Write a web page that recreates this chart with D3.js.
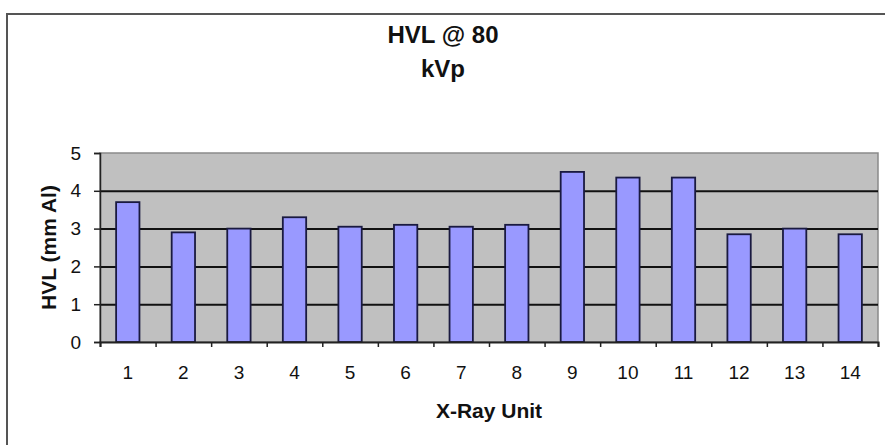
<!DOCTYPE html>
<html>
<head>
<meta charset="utf-8">
<script src="https://cdn.jsdelivr.net/npm/d3@7"></script>
<style>
  body { margin: 0; background: #fff; }
  text { font-family: "Liberation Sans", Arial, sans-serif; fill: #111; }
</style>
</head>
<body>
<div id="chart"></div>
<script>
const units = ["1", "2", "3", "4", "5", "6", "7", "8", "9", "10", "11", "12", "13", "14"]
const hvl = [3.7, 2.9, 3.0, 3.3, 3.05, 3.1, 3.05, 3.1, 4.5, 4.35, 4.35, 2.85, 3.0, 2.85]
const yTicks = [0, 1, 2, 3, 4, 5]
const titleLines = ["HVL @ 80", "kVp"]

const width = 885
const height = 445
const plotLeft = 100, plotRight = 878, plotTop = 153, plotBottom = 342

const svg = d3.select("#chart").append("svg")
  .attr("width", width)
  .attr("height", height)

// chart area border (runs off the picture on right and bottom)
svg.append("rect")
  .attr("x", 7).attr("y", 14)
  .attr("width", 900).attr("height", 450)
  .attr("fill", "#fff")
  .attr("stroke", "#555").attr("stroke-width", 2)

const x = d3.scaleBand().domain(units).range([plotLeft, plotRight]).paddingInner(0.58).paddingOuter(0.29)
const xEdge = d3.scaleLinear().domain([0, units.length]).range([plotLeft, plotRight])
const y = d3.scaleLinear().domain([0, 5]).range([plotBottom, plotTop])

// plot background
svg.append("rect")
  .attr("x", plotLeft).attr("y", plotTop)
  .attr("width", plotRight - plotLeft).attr("height", plotBottom - plotTop)
  .attr("fill", "#c0c0c0")
  .attr("stroke", "#8a8a8a").attr("stroke-width", 1.5)

// grid lines
svg.append("g")
  .attr("transform", "translate(" + plotLeft + ",0)")
  .call(d3.axisLeft(y).tickValues(yTicks.filter(d => d > 0 && d < 5)).tickSize(-(plotRight - plotLeft)).tickFormat(""))
  .call(g => g.select(".domain").remove())
  .call(g => g.selectAll("line").attr("stroke", "#111").attr("stroke-width", 2))

// bars
svg.append("g")
  .selectAll("rect")
  .data(hvl)
  .enter()
  .append("rect")
  .attr("x", (d, i) => x(units[i]))
  .attr("y", d => y(d))
  .attr("width", x.bandwidth())
  .attr("height", d => y(0) - y(d))
  .attr("fill", "#9999ff")
  .attr("stroke", "#1a1a40")
  .attr("stroke-width", 1.8)

// y axis
svg.append("g")
  .attr("transform", "translate(" + plotLeft + ",0)")
  .call(d3.axisLeft(y).tickValues(yTicks).tickFormat(d3.format("d")).tickSize(6).tickPadding(13))
  .call(g => g.select(".domain").attr("stroke", "#222").attr("stroke-width", 1.5))
  .call(g => g.selectAll("line").attr("stroke", "#222").attr("stroke-width", 1.5))
  .call(g => g.selectAll("text").attr("font-size", 19).style("font-family", null).attr("fill", "#222"))

// x axis line and tick marks at category edges
svg.append("g")
  .attr("transform", "translate(0," + plotBottom + ")")
  .call(d3.axisBottom(xEdge).ticks(units.length).tickSize(5).tickFormat(""))
  .call(g => g.select(".domain").attr("stroke", "#222").attr("stroke-width", 2))
  .call(g => g.selectAll("line").attr("stroke", "#222").attr("stroke-width", 1.5))

// x tick labels
svg.append("g")
  .attr("transform", "translate(0," + plotBottom + ")")
  .call(d3.axisBottom(x).tickSize(0).tickPadding(24))
  .call(g => g.select(".domain").remove())
  .call(g => g.selectAll("text").attr("font-size", 19).style("font-family", null).attr("fill", "#222"))

// axis titles
svg.append("text")
  .attr("x", (plotLeft + plotRight) / 2)
  .attr("y", 418)
  .attr("text-anchor", "middle")
  .attr("font-size", 21)
  .attr("font-weight", "bold")
  .text("X-Ray Unit")

svg.append("text")
  .attr("transform", "translate(56," + (plotTop + plotBottom) / 2 + ") rotate(-90)")
  .attr("text-anchor", "middle")
  .attr("font-size", 21)
  .attr("font-weight", "bold")
  .text("HVL (mm Al)")

// chart title
svg.append("g")
  .selectAll("text")
  .data(titleLines)
  .enter()
  .append("text")
  .attr("x", 443)
  .attr("y", (d, i) => 43 + i * 34)
  .attr("text-anchor", "middle")
  .attr("font-size", 24)
  .attr("font-weight", "bold")
  .text(d => d)
</script>
</body>
</html>
